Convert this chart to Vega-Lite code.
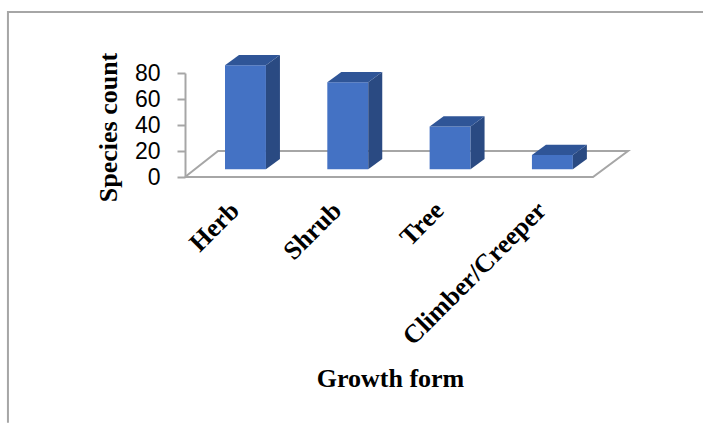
{
"$schema":"https://vega.github.io/schema/vega-lite/v6.json",
"width":443,"height":104,
"autosize":{"type":"none"},
"padding":{"left":185,"top":73,"right":75,"bottom":246},
"background":"white",
"config":{"view":{"stroke":null},"axis":{"labelOverlap":false,"labelBound":false,"labelFlush":false},"axisY":{"tickCount":5}},
"datasets":{
 "bars":[{"growth":"Herb","count":80},{"growth":"Shrub","count":67},{"growth":"Tree","count":33},{"growth":"Climber/Creeper","count":11}],
 "floor":[{"seq":0,"fx":-0.591,"fy":0},{"seq":1,"fx":3.397,"fy":0},{"seq":2,"fx":3.739,"fy":20},{"seq":3,"fx":-0.268,"fy":20},{"seq":4,"fx":-0.591,"fy":0}],
 "frame":[{"seq":0,"fx":-2.3216,"fy":-189},{"seq":1,"fx":-2.3216,"fy":127},{"seq":2,"fx":4.5,"fy":127}]
},
"layer":[
 {"data":{"name":"frame"},"mark":{"type":"line","color":"#a6a6a6","strokeWidth":2,"clip":false},
  "encoding":{"order":{"field":"seq"},"x":{"field":"fx","type":"quantitative",
     "scale":{"domain":[-0.591,3.739],"nice":false,"zero":false},
     "axis":{"values":[0,1,2,3],"labelExpr":"['Herb','Shrub','Tree','Climber/Creeper'][datum.value]","labelAngle":-45,"labelAlign":"right","labelBaseline":"middle","labelFont":"Liberation Serif","labelFontWeight":"bold","labelFontSize":26,"labelColor":"#000000","labelPadding":29,"labelOffset":-11,"labelLimit":500,"labelOverlap":false,"labelBound":false,"labelFlush":false,"ticks":false,"domain":false,"grid":false,"title":"Growth form","titleFont":"Liberation Serif","titleFontWeight":"bold","titleFontSize":26,"titleColor":"#000000","titleX":205,"titleY":209,"titleAlign":"center","titleBaseline":"alphabetic"}},
   "y":{"field":"fy","type":"quantitative",
     "scale":{"domain":[0,80],"nice":false,"zero":false},
     "axis":{"values":[0,20,40,60,80],"tickCount":5,"labelOverlap":false,"labelBound":false,"labelFlush":false,"labelSeparation":0,"labelFont":"Liberation Sans","labelFontSize":23,"labelColor":"#000000","labelPadding":17,"tickSize":8,"tickColor":"#a6a6a6","tickWidth":2,"domainColor":"#a6a6a6","domainWidth":2,"grid":false,"title":"Species count","titleFont":"Liberation Serif","titleFontWeight":"bold","titleFontSize":26,"titleColor":"#000000","titleX":-64,"titleY":54,"titleAlign":"center"}}}},
 {"data":{"name":"floor"},"mark":{"type":"line","color":"#a6a6a6","strokeWidth":2,"clip":false},
  "encoding":{"order":{"field":"seq"},"x":{"field":"fx","type":"quantitative"},"y":{"field":"fy","type":"quantitative"}}},
 {"data":{"name":"bars"},
  "transform":[
   {"calculate":"indexof(['Herb','Shrub','Tree','Climber/Creeper'],datum.growth)","as":"i"},
   {"calculate":"datum.i-0.2","as":"left"},{"calculate":"datum.i+0.2","as":"right"},
   {"calculate":"5.9+datum.count","as":"top"}],
  "mark":{"type":"rect","color":"#4472c4","clip":false},
  "encoding":{"x":{"field":"left","type":"quantitative"},"x2":{"field":"right"},"y":{"field":"top","type":"quantitative"},"y2":{"datum":5.9}}},
 {"data":{"name":"bars"},
  "transform":[
   {"calculate":"indexof(['Herb','Shrub','Tree','Climber/Creeper'],datum.growth)","as":"i"},
   {"calculate":"[0,1]","as":"t"},{"flatten":["t"]},
   {"calculate":"datum.i+0.2+0.137*datum.t","as":"sx"},
   {"calculate":"5.9+7.9*datum.t","as":"sy0"},
   {"calculate":"5.9+datum.count+7.9*datum.t","as":"sy1"}],
  "mark":{"type":"area","orient":"vertical","color":"#2a4a82","opacity":1,"clip":false},
  "encoding":{"x":{"field":"sx","type":"quantitative"},"y":{"field":"sy1","type":"quantitative"},"y2":{"field":"sy0"},"detail":{"field":"growth"}}},
 {"data":{"name":"bars"},
  "transform":[
   {"calculate":"indexof(['Herb','Shrub','Tree','Climber/Creeper'],datum.growth)","as":"i"},
   {"calculate":"[0,1,2,3]","as":"t"},{"flatten":["t"]},
   {"calculate":"datum.i+[-0.2,-0.063,0.2,0.337][datum.t]","as":"tx"},
   {"calculate":"5.9+datum.count+[0,0,0,7.9][datum.t]","as":"ty0"},
   {"calculate":"5.9+datum.count+[0,7.9,7.9,7.9][datum.t]","as":"ty1"}],
  "mark":{"type":"area","orient":"vertical","color":"#2f5597","opacity":1,"clip":false},
  "encoding":{"x":{"field":"tx","type":"quantitative"},"y":{"field":"ty1","type":"quantitative"},"y2":{"field":"ty0"},"detail":{"field":"growth"}}}
]
}
